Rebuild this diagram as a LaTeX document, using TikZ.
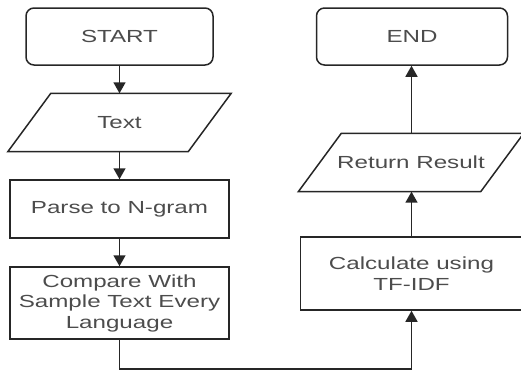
\documentclass[tikz,border=0pt]{standalone}
\usepackage{fontspec}
\setmainfont{Liberation Sans}[FakeStretch=1.38]
\usetikzlibrary{arrows.meta}

\begin{document}
\begin{tikzpicture}[x=1pt,y=-1pt,
    every node/.style={font=\fontsize{17.5}{20.5}\selectfont, text=black!70, inner sep=0pt, align=center},
    outline/.style={draw=black!85, line width=1.5pt},
    term/.style={outline, rounded corners=8pt, minimum height=57pt},
    proc/.style={outline, rectangle, minimum width=219pt, minimum height=58pt},
    iobox/.style={minimum width=180pt, minimum height=58pt},
    flow/.style={draw=black!85, line width=1.5pt, -{Triangle[width=12pt,length=11pt]}}]
    \useasboundingbox (0,0) rectangle (521,372);

    \node[term, minimum width=187pt] (start) at (119.5,36.5) {START};
    \node[iobox] (text) at (119.5,122.5) {Text};
    \node[proc] (parse) at (119.5,209) {Parse to N-gram};
    \node[proc, minimum height=72pt] (compare) at (119.5,303) {Compare With\\Sample Text Every\\Language};

    \node[proc, minimum width=222pt, minimum height=73pt] (calc) at (411.5,273.5) {Calculate using\\TF-IDF};
    \node[iobox, minimum width=182pt] (result) at (411,162.5) {Return Result};
    \node[term, minimum width=191pt] (end) at (412,36.5) {END};

    \foreach \io in {text,result}
        \draw[outline] ([xshift=-21.5pt]\io.south west) -- ([xshift=21.5pt]\io.north west)
            -- ([xshift=21.5pt]\io.north east) -- ([xshift=-21.5pt]\io.south east) -- cycle;

    \draw[flow] (start) -- (text);
    \draw[flow] (text) -- (parse);
    \draw[flow] (parse) -- (compare);
    \draw[flow] (compare.south) -- ++(0,29) -| (calc.south);
    \draw[flow] (calc.north) -- (calc.north |- result.south);
    \draw[flow] (calc.north |- result.north) -- (calc.north |- end.south);
\end{tikzpicture}
\end{document}
